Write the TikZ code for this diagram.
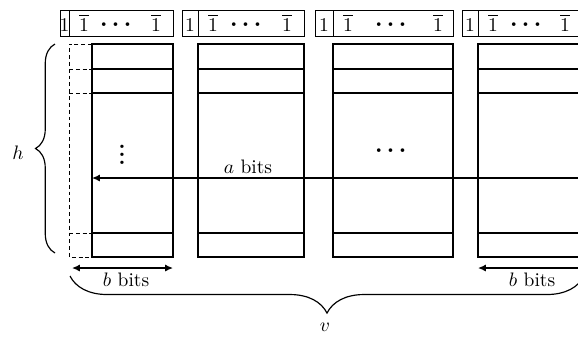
\documentclass[tikz,border=0pt]{standalone}
\usepackage{amsmath,bm}
\usetikzlibrary{decorations.pathreplacing,arrows.meta}
\newcommand{\myonebar}{$\overline{1}$}
\newcommand{\mybolddots}{{\large$\boldsymbol{\cdots}$}}
\tikzset{
  colbox/.style={draw, line width=0.75pt},
  rowline/.style={line width=0.6pt},
  hdrbox/.style={draw, line width=0.5pt},
  dashbox/.style={dashed, line width=0.5pt, dash pattern=on 2pt off 1.5pt},
  lbl/.style={inner sep=0pt, anchor=base},
  dimarrow/.style={{Latex[length=4pt,width=3.6pt]}-{Latex[length=4pt,width=3.6pt]}, line width=0.7pt},
  bracedeco/.style={decorate, decoration={brace, amplitude=#1}, line width=0.6pt}
}
\begin{document}
\begin{tikzpicture}[x=0.513pt, y=-0.513pt]
\useasboundingbox (0,0) rectangle (578,337);
\clip (0,0) rectangle (578,337);

% header boxes
\draw[hdrbox] (60,10) rectangle (173,36);  \draw[hdrbox] (69,10) -- (69,36);
\draw[hdrbox] (182,10) rectangle (304,36); \draw[hdrbox] (198,10) -- (198,36);
\draw[hdrbox] (315,10) rectangle (453,36); \draw[hdrbox] (333,10) -- (333,36);
\draw[hdrbox] (462,10) rectangle (598,36); \draw[hdrbox] (478,10) -- (478,36);

% header texts
\node[lbl] (o1) at (64.5,31) {$1$};
\node[lbl] (b1a) at (84,31) {\myonebar};
\node[lbl] (d1) at (118,30) {\mybolddots};
\node[lbl] (b1b) at (156,31) {\myonebar};
\node[lbl] (o2) at (190,31) {$1$};
\node[lbl] (b2a) at (213,31) {\myonebar};
\node[lbl] (d2) at (248,30) {\mybolddots};
\node[lbl] (b2b) at (287,31) {\myonebar};
\node[lbl] (o3) at (324,31) {$1$};
\node[lbl] (b3a) at (348,31) {\myonebar};
\node[lbl] (d3) at (393,30) {\mybolddots};
\node[lbl] (b3b) at (438,31) {\myonebar};
\node[lbl] (o4) at (470,31) {$1$};
\node[lbl] (b4a) at (493,31) {\myonebar};
\node[lbl] (d4) at (528,30) {\mybolddots};
\node[lbl] (b4b) at (565,31) {\myonebar};

% column 1 dashed part
\draw[dashbox] (92,44) -- (69,44) -- (69,257) -- (92,257);
\draw[dashbox] (69,69) -- (92,69);
\draw[dashbox] (69,93) -- (92,93);
\draw[dashbox] (69,233) -- (92,233);

% columns
\draw[colbox] (92,44) rectangle (173,257);
\draw[colbox] (198,44) rectangle (304,257);
\draw[colbox] (333,44) rectangle (453,257);
\draw[colbox] (478,44) rectangle (600,257);
\foreach \y in {69,93,233}{
  \draw[rowline] (92,\y) -- (173,\y);
  \draw[rowline] (198,\y) -- (304,\y);
  \draw[rowline] (333,\y) -- (453,\y);
  \draw[rowline] (478,\y) -- (600,\y);
}

% dots
\node (vd) at (122,149) {\large$\boldsymbol{\vdots}$};
\node (hd) at (393,151) {\mybolddots};

% a bits arrow
\coordinate (aL) at (92,178);
\coordinate (aR) at (586,178);
\draw[dimarrow] (aL) -- (aR);
\node[lbl] (alab) at (248,173) {$a$ bits};

% b bits arrows
\coordinate (bL1) at (72,268);
\coordinate (bR1) at (173,268);
\draw[dimarrow] (bL1) -- (bR1);
\node[lbl] (blab1) at (126,286) {$b$ bits};
\coordinate (bL2) at (478,268);
\coordinate (bR2) at (586,268);
\draw[dimarrow] (bL2) -- (bR2);
\node[lbl] (blab2) at (532,286) {$b$ bits};

% braces
\coordinate (hB) at (55,253);
\coordinate (hT) at (55,44);
\draw[bracedeco=10pt] (hB) -- (hT);
\node (hlab) at (18,153) {$h$};

\coordinate (vR) at (584,276);
\coordinate (vL) at (70,276);
\draw[bracedeco=19pt] (vR) -- (vL);
\node (vlab) at (325,327) {$v$};
\end{tikzpicture}
\end{document}
